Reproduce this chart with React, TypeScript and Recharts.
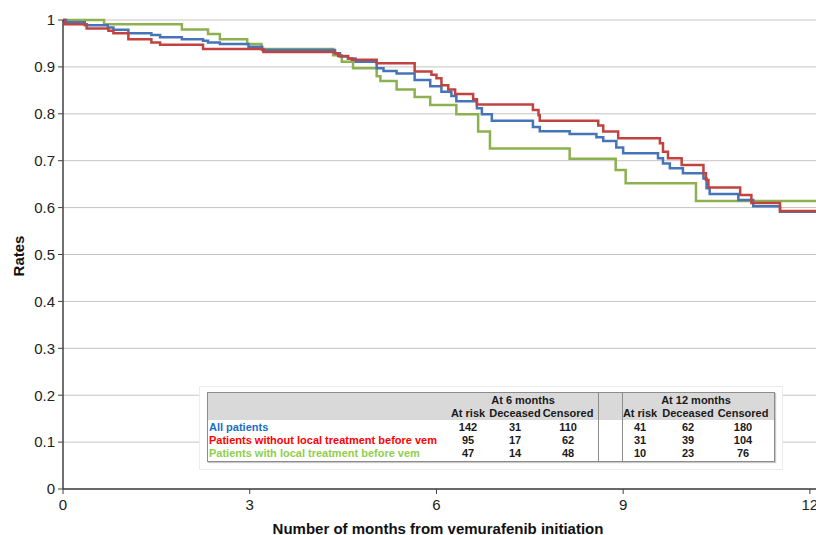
import { CartesianGrid, Line, LineChart, XAxis, YAxis } from 'recharts';

const xTicks = [0, 3, 6, 9, 12];
const yTicks = [0, 0.1, 0.2, 0.3, 0.4, 0.5, 0.6, 0.7, 0.8, 0.9, 1];

// Kaplan-Meier steps (month where the step starts, rate after it)
const allMonths = [0, 0.05, 0.35, 0.72, 0.81, 1.05, 1.42, 1.56, 1.91, 2.25, 2.33, 2.52, 2.98, 3.2, 4.37, 4.45, 4.58, 4.7, 5.04, 5.15, 5.36, 5.65, 5.9, 6.08, 6.24, 6.32, 6.65, 6.73, 6.89, 7.55, 7.66, 8.14, 8.57, 8.68, 8.89, 9.0, 9.56, 9.64, 9.75, 9.96, 10.29, 10.34, 10.39, 10.85, 11.09, 11.52, 12.3];
const allRates = [1, 0.995, 0.989, 0.984, 0.979, 0.972, 0.968, 0.963, 0.959, 0.956, 0.952, 0.949, 0.943, 0.936, 0.929, 0.922, 0.918, 0.911, 0.897, 0.891, 0.886, 0.872, 0.859, 0.847, 0.838, 0.827, 0.812, 0.799, 0.785, 0.772, 0.763, 0.757, 0.75, 0.742, 0.728, 0.716, 0.705, 0.694, 0.684, 0.673, 0.662, 0.641, 0.629, 0.616, 0.603, 0.591, 0.591];

const noLocalMonths = [0, 0.03, 0.38, 0.73, 0.81, 1.05, 1.42, 1.56, 2.25, 3.22, 4.37, 4.42, 4.58, 4.64, 5.04, 5.65, 5.92, 6.0, 6.08, 6.19, 6.3, 6.59, 6.65, 7.55, 7.64, 7.66, 8.6, 8.68, 8.92, 9.59, 9.64, 9.72, 9.94, 10.29, 10.33, 10.37, 10.88, 11.06, 11.52, 12.3];
const noLocalRates = [1, 0.991, 0.982, 0.977, 0.972, 0.959, 0.952, 0.947, 0.938, 0.932, 0.929, 0.923, 0.918, 0.915, 0.908, 0.89, 0.883, 0.876, 0.861, 0.852, 0.842, 0.831, 0.82, 0.808, 0.797, 0.785, 0.775, 0.762, 0.748, 0.737, 0.719, 0.705, 0.691, 0.673, 0.659, 0.643, 0.627, 0.61, 0.593, 0.593];

const localMonths = [0, 0.66, 1.91, 2.33, 2.52, 2.96, 3.19, 4.34, 4.48, 4.66, 5.04, 5.1, 5.36, 5.65, 5.9, 6.32, 6.67, 6.86, 8.14, 8.88, 9.04, 10.17, 12.3];
const localRates = [1, 0.991, 0.98, 0.97, 0.959, 0.949, 0.938, 0.925, 0.911, 0.897, 0.88, 0.87, 0.852, 0.836, 0.819, 0.799, 0.762, 0.726, 0.704, 0.68, 0.652, 0.614, 0.614];

const rowLabels = ['All patients', 'Patients without local treatment before vem', 'Patients with local treatment before vem'];
const rowColors = ['#1a6fc4', '#ff0000', '#8fce4c'];
const columnLabels = ['At risk', 'Deceased', 'Censored'];
const at6Months = [
  [142, 31, 110],
  [95, 17, 62],
  [47, 14, 48],
];
const at12Months = [
  [41, 62, 180],
  [31, 39, 104],
  [10, 23, 76],
];

const FONT = "'Liberation Sans', Arial, sans-serif";

const toSteps = (months: number[], rates: number[]) => months.map((m, i) => ({ m, r: rates[i] }));

function Txt({ x, y, color = '#1a1a1a', children }: { x: number; y: number; color?: string; children: React.ReactNode }) {
  return (
    <div style={{ position: 'absolute', left: x, top: y, transform: 'translate(-50%, -50%)', whiteSpace: 'nowrap', color, fontWeight: 700, fontSize: 11, lineHeight: '13px' }}>
      {children}
    </div>
  );
}

function RiskTable() {
  const left6 = [468, 515, 568];
  const left12 = [640, 688, 743];
  const rowY = [427, 440, 453];
  return (
    <>
      <div style={{ position: 'absolute', left: 199, top: 386, width: 582, height: 82, background: '#fff', border: '1px solid #ececec' }} />
      <div style={{ position: 'absolute', left: 207, top: 392, width: 566, height: 68, border: '1px solid #8c8c8c', boxShadow: '1px 1px 1px #c8c8c8' }}>
        <div style={{ position: 'absolute', left: 0, top: 0, right: 0, height: 27, background: '#d9d9d9' }} />
        <div style={{ position: 'absolute', left: 390, top: 0, bottom: 0, width: 1, background: '#8c8c8c' }} />
        <div style={{ position: 'absolute', left: 414, top: 0, bottom: 0, width: 1, background: '#8c8c8c' }} />
      </div>
      <Txt x={523} y={400}>At 6 months</Txt>
      <Txt x={696} y={400}>At 12 months</Txt>
      {columnLabels.map((c, i) => (
        <Txt key={'h6' + c} x={left6[i]} y={413}>{c}</Txt>
      ))}
      {columnLabels.map((c, i) => (
        <Txt key={'h12' + c} x={left12[i]} y={413}>{c}</Txt>
      ))}
      {rowLabels.map((label, r) => (
        <div key={label} style={{ position: 'absolute', left: 209, top: rowY[r] - 6.5, color: rowColors[r], fontWeight: 700, fontSize: 11, lineHeight: '13px', whiteSpace: 'nowrap' }}>
          {label}
        </div>
      ))}
      {at6Months.map((row, r) => row.map((v, i) => <Txt key={`a${r}${i}`} x={left6[i]} y={rowY[r]}>{v}</Txt>))}
      {at12Months.map((row, r) => row.map((v, i) => <Txt key={`b${r}${i}`} x={left12[i]} y={rowY[r]}>{v}</Txt>))}
    </>
  );
}

export default function App() {
  return (
    <div style={{ position: 'fixed', left: 0, top: 0, width: 816, height: 535, overflow: 'hidden', background: '#fff', fontFamily: FONT }}>
      <LineChart width={841} height={535} margin={{ top: 20, right: 0, bottom: 0, left: 0 }}>
        <CartesianGrid horizontal vertical={false} stroke="#c4c4c4" strokeWidth={1} />
        <XAxis
          type="number"
          dataKey="m"
          domain={[0, 12.5]}
          ticks={xTicks}
          allowDataOverflow
          height={46}
          tickSize={5}
          tickMargin={5}
          axisLine={{ stroke: '#404040', strokeWidth: 1.5 }}
          tickLine={{ stroke: '#404040' }}
          tick={{ fill: '#222', fontSize: 15, fontFamily: FONT }}
        />
        <YAxis
          type="number"
          dataKey="r"
          domain={[0, 1]}
          ticks={yTicks}
          interval={0}
          width={63}
          tickSize={5}
          tickMargin={3}
          tickFormatter={(v: number) => String(Math.round(v * 10) / 10)}
          axisLine={{ stroke: '#404040', strokeWidth: 1.5 }}
          tickLine={{ stroke: '#404040' }}
          tick={{ fill: '#222', fontSize: 15, fontFamily: FONT }}
        />
        <Line data={toSteps(localMonths, localRates)} dataKey="r" type="stepAfter" stroke="#8db14f" strokeWidth={2.5} dot={false} isAnimationActive={false} />
        <Line data={toSteps(allMonths, allRates)} dataKey="r" type="stepAfter" stroke="#4575b8" strokeWidth={2.5} dot={false} isAnimationActive={false} />
        <Line data={toSteps(noLocalMonths, noLocalRates)} dataKey="r" type="stepAfter" stroke="#c0433f" strokeWidth={2.5} dot={false} isAnimationActive={false} />
      </LineChart>
      <RiskTable />
      <div style={{ position: 'absolute', left: 18, top: 256, transform: 'translate(-50%, -50%) rotate(-90deg)', fontWeight: 700, fontSize: 15, color: '#111' }}>Rates</div>
      <div style={{ position: 'absolute', left: 438, top: 520, transform: 'translateX(-50%)', whiteSpace: 'nowrap', fontWeight: 700, fontSize: 15, lineHeight: '17px', color: '#111' }}>
        Number of months from vemurafenib initiation
      </div>
    </div>
  );
}
